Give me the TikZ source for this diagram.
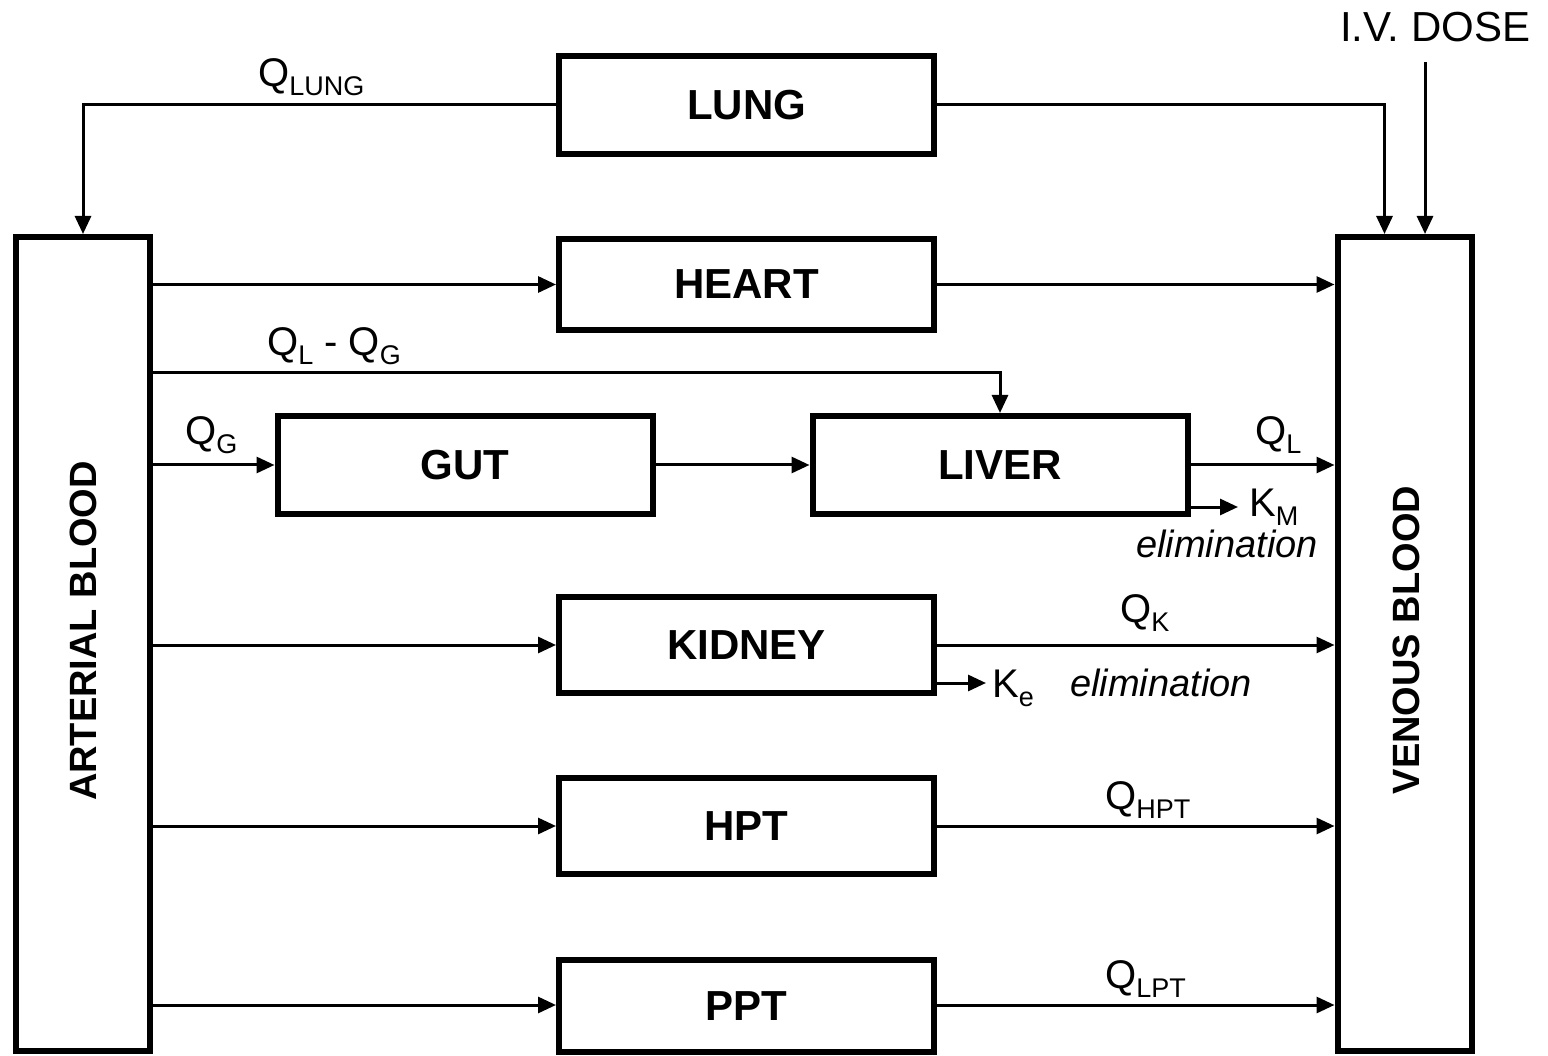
\documentclass[tikz,border=0pt]{standalone}
\usepackage{fontspec}
\setmainfont{Liberation Sans}
\usetikzlibrary{arrows.meta}
\newcommand{\subtxt}[1]{\raisebox{-9pt}{\fontsize{27}{27}\selectfont #1}}
\begin{document}
\begin{tikzpicture}[x=1pt,y=-1pt,
  box/.style={draw, line width=6pt, inner sep=0pt, font=\fontsize{42}{42}\selectfont\bfseries},
  organ/.style={box, minimum width=375pt, minimum height=#1},
  organ/.default=98pt,
  blood/.style={box, minimum width=134pt, minimum height=814pt},
  vtext/.style={rotate=90, inner sep=0pt, font=\fontsize{38}{38}\selectfont\bfseries},
  flow/.style={line width=3pt, -{Triangle[length=18pt,width=16pt]}},
  lbl/.style={inner sep=0pt, anchor=base west, font=\fontsize{40}{40}\selectfont},
  elim/.style={inner sep=0pt, anchor=base west, font=\fontsize{38}{38}\selectfont\itshape}]
\useasboundingbox (0,0) rectangle (1548,1056);

% compartments
\node[blood] (art) at (83,644) {};
\node[vtext] (artt) at (83,631) {ARTERIAL BLOOD};
\node[blood] (ven) at (1404.5,644) {};
\node[vtext] (vent) at (1406,640) {VENOUS BLOOD};

\node[organ] (lung) at (746.5,105) {LUNG};
\node[organ=91pt] (heart) at (746.5,284.5) {HEART};
\node[organ] (gut) at (465,465) {GUT};
\node[organ] (liver) at (1000,465) {LIVER};
\node[organ=96pt] (kidney) at (746.5,645) {KIDNEY};
\node[organ=96pt] (hpt) at (746.5,826) {HPT};
\node[organ=92pt] (ppt) at (746.5,1006) {PPT};

% lung
\draw[flow] (lung.west) -| (art.north);
\draw[flow] (lung.east) -| ([xshift=-20pt]ven.north);
\node[lbl] (qlung) at (258,87) {Q\subtxt{LUNG}};

% iv dose
\node[lbl, font=\fontsize{42}{42}\selectfont] (iv) at (1340,42) {I.V. DOSE};
\coordinate (ivs) at (1425,62);
\draw[flow] (ivs) -- (ivs |- ven.north);

% heart
\draw[flow] (art.east |- heart.west) -- (heart.west);
\draw[flow] (heart.east) -- (heart.east -| ven.west);

% liver / gut
\coordinate (qlg) at (150,373);
\draw[flow] (art.east |- qlg) -| (liver.north);
\node[lbl] (qlqg) at (267,356) {Q\subtxt{L} - Q\subtxt{G}};
\draw[flow] (art.east |- gut.west) -- (gut.west);
\node[lbl] (qg) at (185,445) {Q\subtxt{G}};
\draw[flow] (gut.east) -- (liver.west);
\draw[flow] (liver.east) -- (liver.east -| ven.west);
\node[lbl] (ql) at (1255,445) {Q\subtxt{L}};
\coordinate (kmtip) at (1238,507);
\draw[flow] (liver.east |- kmtip) -- (kmtip);
\node[lbl] (km) at (1249,516) {K\subtxt{M}};
\node[elim] (elim1) at (1136,557) {elimination};

% kidney
\draw[flow] (art.east |- kidney.west) -- (kidney.west);
\draw[flow] (kidney.east) -- (kidney.east -| ven.west);
\node[lbl] (qk) at (1120,622) {Q\subtxt{K}};
\coordinate (ketip) at (986,683);
\draw[flow] (kidney.east |- ketip) -- (ketip);
\node[lbl] (ke) at (992,697) {K\subtxt{e}};
\node[elim] (elim2) at (1070,696) {elimination};

% hpt
\draw[flow] (art.east |- hpt.west) -- (hpt.west);
\draw[flow] (hpt.east) -- (hpt.east -| ven.west);
\node[lbl] (qhpt) at (1105,809) {Q\subtxt{HPT}};

% ppt
\coordinate (pptrow) at (0,1005);
\draw[flow] (art.east |- pptrow) -- (ppt.west |- pptrow);
\draw[flow] (ppt.east |- pptrow) -- (ven.west |- pptrow);
\node[lbl] (qlpt) at (1105,988) {Q\subtxt{LPT}};
\end{tikzpicture}
\end{document}
